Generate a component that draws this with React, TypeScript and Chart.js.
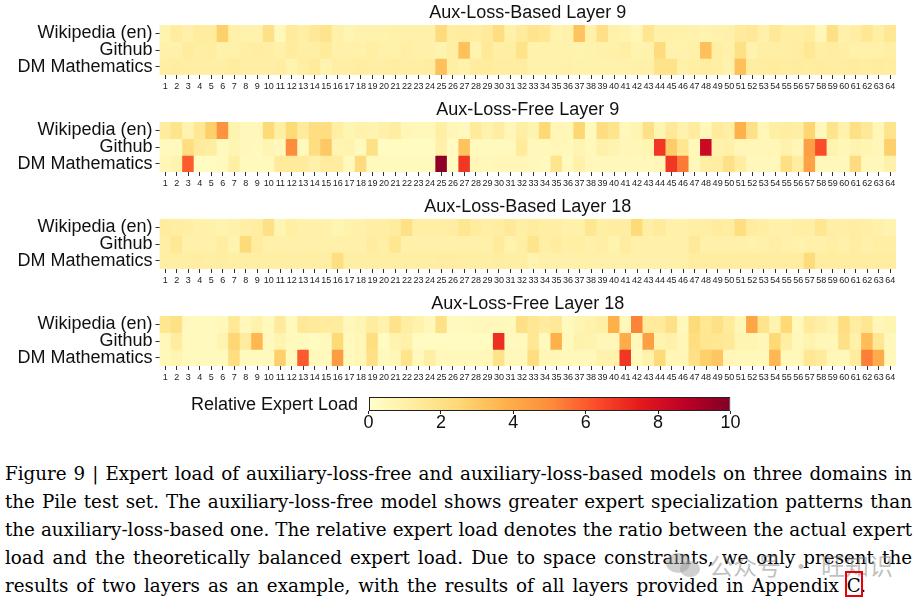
import React, { useEffect, useRef } from 'react';
import { Chart, registerables } from 'chart.js';
Chart.register(...registerables);

const SANS = '"Liberation Sans", Arial, Helvetica, sans-serif';
const SERIF = '"DejaVu Serif", "Liberation Serif", serif';

const experts: string[] = Array.from({ length: 64 }, (_, i) => String(i + 1));
const domains = ['Wikipedia (en)', 'Github', 'DM Mathematics'];
const colorbarRange = [0, 10];
const colorbarTicks = [0, 2, 4, 6, 8, 10];
const colorbarLabel = 'Relative Expert Load';
const ylOrRd = ['#ffffcc', '#ffeda0', '#fed976', '#feb24c', '#fd8d3c', '#fc4e2a', '#e31a1c', '#bd0026', '#800026'];

// Aux-Loss-Based Layer 9
const basedL9Wiki = [0.8,1.3,1.0,1.3,1.3,2.8,1.0,0.9,0.9,2.0,0.5,1.4,1.1,1.5,1.8,1.0,0.7,0.9,0.9,0.9,1.0,1.0,1.0,1.0,2.3,1.2,1.3,1.2,1.4,2.2,1.0,1.4,
  1.8,1.6,0.8,1.0,3.2,1.0,2.0,1.0,0.8,0.6,1.7,1.0,1.0,1.0,0.9,0.8,0.9,1.0,1.4,1.5,1.0,1.5,1.1,1.1,1.3,0.6,2.0,1.0,1.1,1.6,1.1,1.6];
const basedL9Github = [1.0,1.0,1.3,1.1,1.2,1.0,1.0,1.1,1.2,1.1,1.0,1.3,1.1,1.1,1.4,1.0,1.0,1.0,1.1,1.0,1.0,1.1,1.0,1.0,0.8,1.1,3.3,0.8,1.5,1.1,1.1,1.9,
  0.9,0.9,0.9,0.9,0.8,0.9,1.0,1.0,1.1,0.8,0.9,2.3,0.9,0.9,1.0,3.3,1.1,1.0,2.0,0.9,1.1,1.1,1.1,1.2,1.6,1.1,1.2,1.1,1.0,1.0,1.0,1.1];
const basedL9Math = [1.1,1.2,1.1,1.1,1.1,1.1,1.3,1.1,1.1,1.1,1.2,0.8,1.1,1.4,0.8,1.1,1.1,1.2,1.1,1.1,1.2,1.1,1.1,1.2,3.3,1.1,0.9,1.3,1.3,1.2,1.2,1.2,
  0.9,0.9,0.9,1.0,0.9,0.9,0.9,0.9,0.9,1.0,1.0,1.9,1.9,1.0,1.1,1.2,1.1,0.9,3.3,1.2,1.2,1.3,1.2,1.3,1.2,1.3,1.2,1.2,1.3,1.2,1.3,1.2];

// Aux-Loss-Free Layer 9
const freeL9Wiki = [1.3,1.8,0.8,1.6,2.8,4.8,0.8,0.5,0.5,2.4,1.1,2.4,1.4,2.2,2.2,1.1,0.7,0.9,0.8,1.0,1.2,0.6,0.5,0.5,1.1,0.6,0.4,1.4,0.9,1.2,0.6,1.1,
  0.8,2.5,0.6,0.6,2.6,0.4,2.2,1.8,0.5,0.7,2.0,0.7,1.5,0.9,1.3,0.5,1.4,1.1,3.8,2.0,0.6,1.1,1.2,1.1,2.6,0.5,1.8,0.9,2.0,1.5,0.6,1.8];
const freeL9Github = [0.4,0.4,2.2,1.4,1.2,0.4,0.7,0.5,0.4,0.7,0.5,5.0,0.4,2.2,3.0,0.7,0.8,0.4,2.0,0.3,0.3,0.3,0.3,0.3,1.0,0.3,3.2,0.4,0.4,0.4,0.4,1.4,
  0.5,0.5,0.6,0.5,0.7,0.5,1.0,0.8,0.6,0.6,0.7,6.8,2.9,1.7,0.5,8.3,0.9,1.0,0.6,0.6,0.6,0.6,0.9,0.6,4.4,6.3,0.8,0.6,0.8,0.7,0.6,2.8];
const freeL9Math = [0.6,0.8,6.0,0.3,0.3,0.4,1.1,0.4,0.4,0.4,1.4,1.4,1.4,1.0,1.3,1.3,0.4,2.3,0.4,0.4,0.4,0.4,0.4,0.4,9.7,0.3,6.8,0.6,0.5,0.6,0.6,0.6,
  0.5,0.4,1.8,0.4,1.0,0.5,0.5,0.5,0.5,0.5,0.5,0.6,6.8,5.4,0.5,1.1,1.2,2.0,1.2,0.5,0.5,0.5,2.1,1.2,4.3,0.5,0.5,0.5,2.3,0.5,0.5,1.0];

// Aux-Loss-Based Layer 18
const basedL18Wiki = [1.3,1.2,1.1,1.0,1.0,0.8,1.0,1.1,1.2,2.0,0.7,1.1,1.0,1.0,1.0,0.7,0.9,1.0,1.1,1.1,1.3,2.0,1.1,1.1,1.1,1.2,1.7,1.3,1.1,1.2,1.5,1.1,
  1.3,1.1,1.1,1.0,1.0,1.7,1.1,1.2,1.2,2.4,1.1,1.4,1.0,1.0,1.1,1.1,1.3,1.2,2.2,1.3,1.1,1.0,1.0,1.1,1.1,1.7,1.1,1.1,1.2,1.1,1.0,0.8];
const basedL18Github = [1.1,1.6,1.0,1.0,1.0,1.2,0.8,2.4,1.3,1.0,1.0,1.0,1.0,1.0,1.0,1.0,1.0,1.0,1.3,1.1,1.7,1.0,1.0,1.0,1.0,1.0,1.0,1.0,1.0,1.4,0.9,1.1,
  1.8,1.1,1.3,1.1,1.1,1.0,1.1,0.8,1.3,1.0,1.0,1.0,1.0,1.0,1.5,1.0,1.0,1.0,1.0,0.9,1.0,1.1,1.0,0.9,1.0,1.0,1.1,1.0,1.2,1.0,1.1,1.1];
const basedL18Math = [1.1,1.1,1.1,1.2,1.1,1.2,1.1,1.1,1.1,1.1,1.1,1.1,1.1,1.1,1.1,2.2,1.1,1.1,1.1,1.1,1.1,1.1,1.1,1.1,1.2,1.2,1.1,1.1,1.1,1.2,1.1,1.1,
  0.8,1.0,1.0,1.0,1.0,1.0,1.0,1.0,1.0,1.0,1.0,1.0,1.0,1.0,1.2,1.2,1.2,1.2,1.2,1.2,1.2,1.2,1.2,1.2,2.3,1.2,1.2,1.2,1.2,1.2,1.2,1.2];

// Aux-Loss-Free Layer 18
const freeL18Wiki = [1.7,2.0,0.4,0.4,0.4,0.5,1.5,0.5,0.9,0.4,1.4,0.4,1.5,1.4,1.3,1.3,0.5,0.7,1.3,0.9,1.9,1.2,0.9,0.5,2.0,0.4,0.4,0.5,0.5,0.5,0.4,2.0,
  1.6,1.3,1.5,0.4,0.7,0.9,1.1,3.8,0.5,5.2,1.4,1.4,2.0,0.5,2.4,1.6,2.0,1.4,0.6,4.2,1.8,0.8,2.5,0.4,1.4,1.1,0.8,2.2,1.2,1.7,0.6,0.7];
const freeL18Github = [0.5,1.3,0.4,0.4,0.4,0.8,2.6,1.3,3.6,0.4,0.8,0.4,0.4,0.3,0.4,2.4,0.4,0.6,2.2,0.3,0.8,1.0,0.3,0.3,0.3,0.3,0.3,0.3,0.3,7.0,0.4,0.4,
  1.6,0.4,3.8,0.4,0.9,0.8,0.6,0.6,4.0,0.5,4.4,0.8,1.0,0.6,2.2,1.7,1.6,1.5,0.7,0.7,0.6,2.5,1.1,0.5,0.8,0.6,0.6,2.0,1.0,3.4,1.6,0.5];
const freeL18Math = [0.5,0.7,0.4,0.4,0.4,0.4,2.2,0.4,0.4,0.4,2.8,0.4,6.0,0.5,0.4,4.5,0.4,0.6,2.0,0.4,0.6,1.8,0.4,1.1,0.5,0.5,0.5,0.5,0.5,1.9,0.5,0.5,
  2.2,0.6,0.6,0.5,0.5,0.5,0.9,0.9,6.8,0.4,0.9,2.4,0.6,0.6,2.0,2.8,3.1,0.6,0.5,0.5,0.5,3.6,0.5,0.5,1.6,1.4,0.6,0.5,1.3,5.3,4.0,0.5];

const panelTitles = ['Aux-Loss-Based Layer 9', 'Aux-Loss-Free Layer 9', 'Aux-Loss-Based Layer 18', 'Aux-Loss-Free Layer 18'];
const panelRows = [
  [basedL9Wiki, basedL9Github, basedL9Math],
  [freeL9Wiki, freeL9Github, freeL9Math],
  [basedL18Wiki, basedL18Github, basedL18Math],
  [freeL18Wiki, freeL18Github, freeL18Math],
];

const captionLines = [
  'Figure 9 | Expert load of auxiliary-loss-free and auxiliary-loss-based models on three domains in',
  'the Pile test set. The auxiliary-loss-free model shows greater expert specialization patterns than',
  'the auxiliary-loss-based one. The relative expert load denotes the ratio between the actual expert',
  'load and the theoretically balanced expert load. Due to space constraints, we only present the',
  'results of two layers as an example, with the results of all layers provided in Appendix C.',
];

function hexToRgb(h: string): number[] {
  const n = parseInt(h.slice(1), 16);
  return [(n >> 16) & 255, (n >> 8) & 255, n & 255];
}
const cmapRgb = ylOrRd.map(hexToRgb);
function colorFor(v: number): string {
  const t = Math.max(0, Math.min(1, (v - colorbarRange[0]) / (colorbarRange[1] - colorbarRange[0])));
  const pos = t * (cmapRgb.length - 1);
  const i = Math.min(cmapRgb.length - 2, Math.floor(pos));
  const f = pos - i;
  const a = cmapRgb[i], b = cmapRgb[i + 1];
  const c = a.map((x, k) => Math.round(x + (b[k] - x) * f));
  return `rgb(${c[0]},${c[1]},${c[2]})`;
}

function Heatmap({ title, rows, top }: { title: string; rows: number[][]; top: number }) {
  const ref = useRef<HTMLCanvasElement>(null);
  useEffect(() => {
    const chart = new Chart(ref.current as HTMLCanvasElement, {
      type: 'bar',
      data: {
        labels: experts,
        datasets: rows.map((vals, r) => ({
          label: domains[r],
          data: vals.map(() => 1),
          backgroundColor: vals.map(colorFor),
          borderWidth: 0,
          barPercentage: 1,
          categoryPercentage: 1,
        })),
      },
      options: {
        animation: false,
        responsive: true,
        maintainAspectRatio: false,
        layout: { autoPadding: false, padding: { left: 0, right: 22, top: 0, bottom: 0 } },
        plugins: {
          legend: { display: false },
          tooltip: { enabled: false },
          title: {
            display: true,
            text: title,
            fullSize: false,
            color: '#111',
            font: { family: SANS, size: 18, weight: 'normal', lineHeight: 1 },
            padding: { top: 4, bottom: 3 },
          },
        },
        scales: {
          x: {
            stacked: true,
            offset: true,
            grid: { offset: false, drawOnChartArea: false, drawTicks: true, tickLength: 4, color: '#333' },
            border: { display: false },
            ticks: { autoSkip: false, maxRotation: 0, minRotation: 0, padding: 2, color: '#222', font: { family: SANS, size: 9 } },
            afterFit: (s: any) => { s.height = 22; },
          },
          y: {
            stacked: true,
            reverse: true,
            min: 0,
            max: domains.length,
            afterBuildTicks: (s: any) => { s.ticks = domains.map((_, i) => ({ value: i + 0.5 })); },
            grid: { drawOnChartArea: false, drawTicks: true, tickLength: 4, color: '#333' },
            border: { display: false },
            ticks: {
              autoSkip: false,
              padding: 3,
              color: '#111',
              font: { family: SANS, size: 18 },
              callback: (v: any) => domains[Math.floor(Number(v))],
            },
            afterFit: (s: any) => { s.width = 159.5; },
          },
        },
      } as any,
    });
    return () => chart.destroy();
  }, []);
  return (
    <div style={{ position: 'absolute', left: 0, top, width: 918, height: 97 }}>
      <canvas ref={ref} />
    </div>
  );
}

function Colorbar() {
  const ref = useRef<HTMLCanvasElement>(null);
  useEffect(() => {
    const chart = new Chart(ref.current as HTMLCanvasElement, {
      type: 'bar',
      data: {
        labels: [colorbarLabel],
        datasets: [{
          data: [colorbarRange],
          backgroundColor: (ctx: any) => {
            const c = ctx.chart;
            const a = c.chartArea;
            if (!a) return 'transparent';
            const g = c.ctx.createLinearGradient(a.left, 0, a.right, 0);
            ylOrRd.forEach((col, i) => g.addColorStop(i / (ylOrRd.length - 1), col));
            return g;
          },
          borderColor: '#222',
          borderWidth: 1,
          borderSkipped: false,
          barPercentage: 1,
          categoryPercentage: 1,
          inflateAmount: 0,
        }],
      },
      options: {
        indexAxis: 'y',
        animation: false,
        responsive: true,
        maintainAspectRatio: false,
        layout: { autoPadding: false, padding: { left: 0, right: 187.5, top: 12, bottom: 0 } },
        plugins: { legend: { display: false }, tooltip: { enabled: false } },
        scales: {
          x: {
            type: 'linear',
            min: colorbarRange[0],
            max: colorbarRange[1],
            afterBuildTicks: (s: any) => { s.ticks = colorbarTicks.map((v) => ({ value: v })); },
            grid: { drawOnChartArea: false, drawTicks: true, tickLength: 3, color: '#222' },
            border: { display: false },
            ticks: { padding: 0, color: '#111', font: { family: SANS, size: 18, lineHeight: 1 } },
            afterFit: (s: any) => { s.height = 19; },
          },
          y: {
            type: 'category',
            offset: true,
            grid: { display: false, drawTicks: false },
            border: { display: false },
            ticks: { display: false },
            afterFit: (s: any) => { s.width = 368.5; },
          },
        },
      } as any,
    });
    return () => chart.destroy();
  }, []);
  return (
    <div style={{ position: 'absolute', left: 0, top: 385, width: 918, height: 45 }}>
      <canvas ref={ref} />
    </div>
  );
}

export default function App() {
  return (
    <div style={{ position: 'absolute', left: 0, top: 0, width: 918, height: 609, background: '#fff', overflow: 'hidden' }}>
      {panelTitles.map((t, i) => (
        <Heatmap key={t} title={t} rows={panelRows[i]} top={97 * i} />
      ))}
      <Colorbar />
      <div style={{ position: 'absolute', left: 0, top: 394, width: 358, textAlign: 'right', fontFamily: SANS, fontSize: 18, lineHeight: '20px', color: '#111', whiteSpace: 'nowrap' }}>
        {colorbarLabel}
      </div>
      <div style={{ position: 'absolute', left: 5, top: 460, width: 907, fontFamily: SERIF, fontSize: 18.3, lineHeight: '28px', color: '#000' }}>
        {captionLines.map((line, i) => (
          <div
            key={i}
            style={{
              whiteSpace: 'nowrap',
              textAlign: 'justify',
              textAlignLast: 'justify' as any,
              width: i === captionLines.length - 1 ? 861 : 907,
            }}
          >
            {line}
          </div>
        ))}
      </div>
      {/* watermark */}
      <div style={{ position: 'absolute', left: 666, top: 553, width: 24, height: 20, borderRadius: '50%', background: 'rgba(150,150,150,0.45)' }} />
      <div style={{ position: 'absolute', left: 680, top: 561, width: 20, height: 16, borderRadius: '50%', background: 'rgba(150,150,150,0.45)' }} />
      <div style={{ position: 'absolute', left: 709, top: 550, fontFamily: '"Noto Sans CJK SC", sans-serif', fontSize: 24, lineHeight: '30px', color: 'rgba(130,130,130,0.5)', whiteSpace: 'nowrap' }}>
        <span>公众号</span>
        <span style={{ margin: '0 8px' }}>·</span>
        <span>旺知识</span>
      </div>
      <div style={{ position: 'absolute', left: 845, top: 571, width: 18, height: 26, border: '2px solid #e8000b', boxSizing: 'border-box' }} />
    </div>
  );
}
